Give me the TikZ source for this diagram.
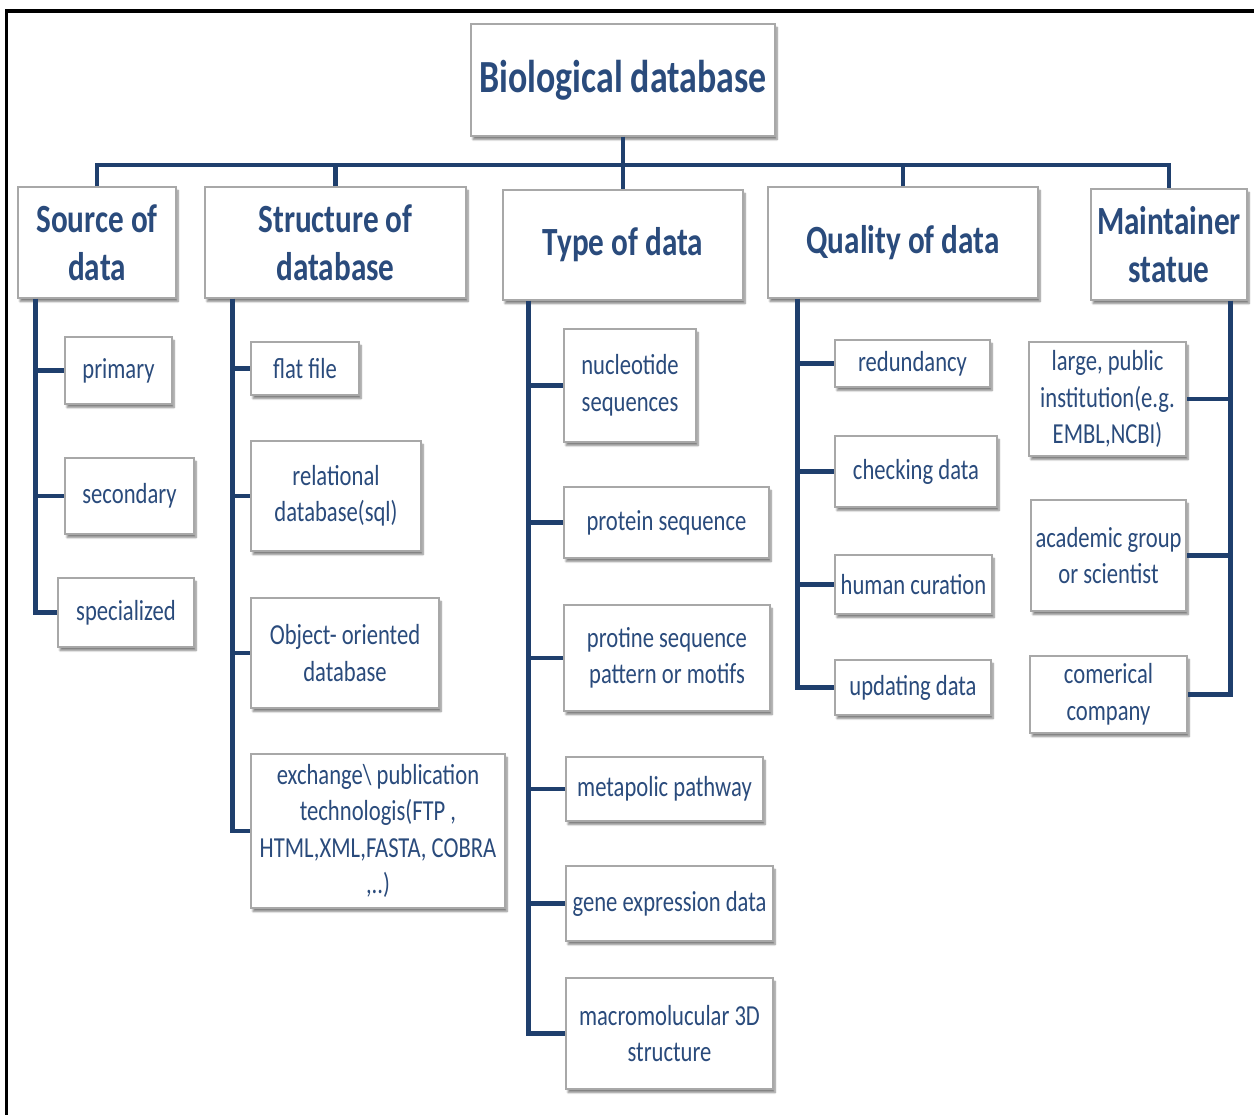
\documentclass[tikz,border=0pt]{standalone}
\usepackage{fontspec}
\setmainfont{Carlito}[FakeStretch=0.78]
\usetikzlibrary{shadows.blur}
\definecolor{lineblue}{HTML}{1F3F6D}
\definecolor{textblue}{HTML}{2A4B7C}
\definecolor{boxgray}{HTML}{A8A8A8}
\tikzset{
  bx/.style={rectangle, draw=boxgray, line width=1.3pt, fill=white, inner sep=0pt,
    text=textblue, align=center,
    blur shadow={shadow xshift=2pt, shadow yshift=-3.5pt, shadow blur steps=6, shadow opacity=50}},
  titlebox/.style={bx, font=\fontsize{46}{54}\selectfont\bfseries},
  catbox/.style={bx, font=\fontsize{40}{48}\selectfont\bfseries},
  subbox/.style={bx, font=\fontsize{29}{36.5}\selectfont},
  conn/.style={draw=lineblue, line width=4.6pt, line join=miter},
}
\begin{document}
\begin{tikzpicture}[x=1pt, y=-1pt]
\useasboundingbox (0,0) rectangle (1254,1115);
% frame
\draw[line width=3.8pt, black] (6.5,1115) -- (6.5,11) -- (1254,11);

% title and categories
\node[titlebox, minimum width=304, minimum height=112] (title) at (623,80) {Biological database};
\node[catbox, minimum width=158, minimum height=111] (src) at (97,242.5) {Source of\\data};
\node[catbox, minimum width=261, minimum height=111] (str) at (335.5,242.5) {Structure of\\database};
\node[catbox, minimum width=240, minimum height=110] (typ) at (623,245) {Type of data};
\node[catbox, minimum width=270, minimum height=111] (qua) at (903,242.5) {Quality of data};
\node[catbox, minimum width=156, minimum height=111] (mnt) at (1169,244.5) {Maintainer\\statue};

% source of data
\node[subbox, minimum width=107, minimum height=67] (s1) at (118.5,370.5) {primary};
\node[subbox, minimum width=129, minimum height=76] (s2) at (129.5,496) {secondary};
\node[subbox, minimum width=136, minimum height=69] (s3) at (126,612.5) {specialized};

% structure of database
\node[subbox, minimum width=108, minimum height=53] (t1) at (305,368.5) {flat file};
\node[subbox, minimum width=170, minimum height=110] (t2) at (336,496) {relational\\database(sql)};
\node[subbox, minimum width=188, minimum height=110] (t3) at (345,653) {Object- oriented\\database};
\node[subbox, minimum width=254, minimum height=154] (t4) at (378,831) {exchange\textbackslash{} publication\\technologis(FTP ,\\HTML,XML,FASTA, COBRA\\,..)};

% type of data
\node[subbox, minimum width=132, minimum height=113] (d1) at (630,385.5) {nucleotide\\sequences};
\node[subbox, minimum width=205, minimum height=71] (d2) at (666.5,522.5) {protein sequence};
\node[subbox, minimum width=206, minimum height=106] (d3) at (667,658) {protine sequence\\pattern or motifs};
\node[subbox, minimum width=197, minimum height=64] (d4) at (664.5,789) {metapolic pathway};
\node[subbox, minimum width=207, minimum height=75] (d5) at (669.5,903.5) {gene expression data};
\node[subbox, minimum width=207, minimum height=111] (d6) at (669.5,1033.5) {macromolucular 3D\\structure};

% quality of data
\node[subbox, minimum width=155, minimum height=47] (q1) at (912.5,363.5) {redundancy};
\node[subbox, minimum width=162, minimum height=71] (q2) at (916,471.5) {checking data};
\node[subbox, minimum width=157, minimum height=59] (q3) at (913.5,584.5) {human curation};
\node[subbox, minimum width=156, minimum height=55] (q4) at (913,687.5) {updating data};

% maintainer statue
\node[subbox, minimum width=157, minimum height=114] (m1) at (1107.5,399) {large, public\\institution(e.g.\\EMBL,NCBI)};
\node[subbox, minimum width=155, minimum height=111] (m2) at (1108.5,555.5) {academic group\\or scientist};
\node[subbox, minimum width=157, minimum height=77] (m3) at (1108.5,694.5) {comerical\\company};

% bus
\coordinate (bus) at (623,165);
\path[conn] (title.south) -- (typ.north);
\path[conn] (src.north) |- (bus) -| (mnt.north);
\path[conn] (str.north) -- (str.north |- bus);
\path[conn] (qua.north) -- (qua.north |- bus);

% stems
\coordinate (sstem) at ([xshift=18pt]src.south west);
\path[conn] (sstem) |- (s3.west);
\path[conn] (sstem |- s1.west) -- (s1.west);
\path[conn] (sstem |- s2.west) -- (s2.west);

\coordinate (tstem) at ([xshift=28pt]str.south west);
\path[conn] (tstem) |- (t4.west);
\path[conn] (tstem |- t1.west) -- (t1.west);
\path[conn] (tstem |- t2.west) -- (t2.west);
\path[conn] (tstem |- t3.west) -- (t3.west);

\coordinate (dstem) at ([xshift=26pt]typ.south west);
\path[conn] (dstem) |- (d6.west);
\path[conn] (dstem |- d1.west) -- (d1.west);
\path[conn] (dstem |- d2.west) -- (d2.west);
\path[conn] (dstem |- d3.west) -- (d3.west);
\path[conn] (dstem |- d4.west) -- (d4.west);
\path[conn] (dstem |- d5.west) -- (d5.west);

\coordinate (qstem) at ([xshift=30pt]qua.south west);
\path[conn] (qstem) |- (q4.west);
\path[conn] (qstem |- q1.west) -- (q1.west);
\path[conn] (qstem |- q2.west) -- (q2.west);
\path[conn] (qstem |- q3.west) -- (q3.west);

\coordinate (mstem) at ([xshift=-17pt]mnt.south east);
\path[conn] (mstem) |- (m3.east);
\path[conn] (mstem |- m1.east) -- (m1.east);
\path[conn] (mstem |- m2.east) -- (m2.east);
\end{tikzpicture}
\end{document}
